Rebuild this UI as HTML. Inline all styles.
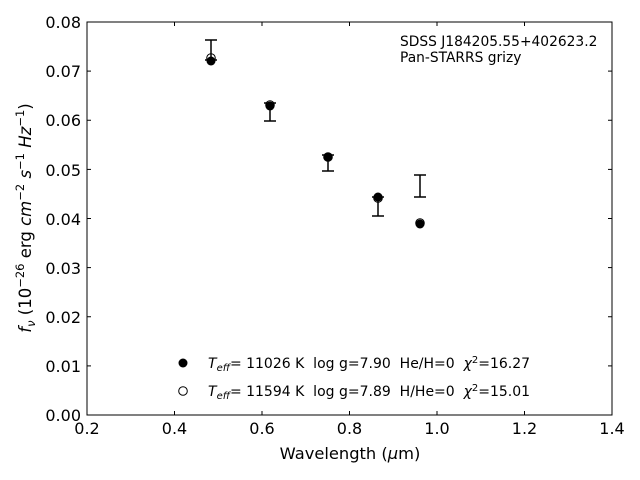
<!DOCTYPE html>
<html><head><meta charset="utf-8"><style>
html,body{margin:0;padding:0;background:#fff;}
svg{display:block;font-family:"DejaVu Sans","Liberation Sans",sans-serif;}
.pre{white-space:pre;}
</style></head><body>
<svg width="640" height="480" viewBox="0 0 640 480" xmlns="http://www.w3.org/2000/svg">
<rect x="0" y="0" width="640" height="480" fill="#fff"/>
<rect x="87" y="22" width="525" height="393" fill="none" stroke="#000" stroke-width="1"/>
<g stroke="#000" stroke-width="1">
<line x1="87" y1="415" x2="87" y2="411"/><line x1="174.5" y1="415" x2="174.5" y2="411"/><line x1="262" y1="415" x2="262" y2="411"/><line x1="349.5" y1="415" x2="349.5" y2="411"/><line x1="437" y1="415" x2="437" y2="411"/><line x1="524.5" y1="415" x2="524.5" y2="411"/><line x1="612" y1="415" x2="612" y2="411"/>
<line x1="174.5" y1="22" x2="174.5" y2="26"/><line x1="262" y1="22" x2="262" y2="26"/><line x1="349.5" y1="22" x2="349.5" y2="26"/><line x1="437" y1="22" x2="437" y2="26"/><line x1="524.5" y1="22" x2="524.5" y2="26"/>
<line x1="87" y1="365.9" x2="91" y2="365.9"/><line x1="87" y1="316.75" x2="91" y2="316.75"/><line x1="87" y1="267.6" x2="91" y2="267.6"/><line x1="87" y1="218.5" x2="91" y2="218.5"/><line x1="87" y1="169.4" x2="91" y2="169.4"/><line x1="87" y1="120.25" x2="91" y2="120.25"/><line x1="87" y1="71.1" x2="91" y2="71.1"/>
<line x1="612" y1="365.9" x2="608" y2="365.9"/><line x1="612" y1="316.75" x2="608" y2="316.75"/><line x1="612" y1="267.6" x2="608" y2="267.6"/><line x1="612" y1="218.5" x2="608" y2="218.5"/><line x1="612" y1="169.4" x2="608" y2="169.4"/><line x1="612" y1="120.25" x2="608" y2="120.25"/><line x1="612" y1="71.1" x2="608" y2="71.1"/>
</g>
<g font-size="16" text-anchor="middle" fill="#000">
<text x="87" y="434">0.2</text><text x="174.5" y="434">0.4</text><text x="262" y="434">0.6</text><text x="349.5" y="434">0.8</text><text x="437" y="434">1.0</text><text x="524.5" y="434">1.2</text><text x="612" y="434">1.4</text>
</g>
<g font-size="16" text-anchor="end" fill="#000">
<text x="81" y="421">0.00</text><text x="81" y="372">0.01</text><text x="81" y="323">0.02</text><text x="81" y="274">0.03</text><text x="81" y="225">0.04</text><text x="81" y="176">0.05</text><text x="81" y="126">0.06</text><text x="81" y="77">0.07</text><text x="81" y="28">0.08</text>
</g>
<text x="350" y="459" font-size="16.3" text-anchor="middle">Wavelength (<tspan font-style="italic">μ</tspan>m)</text>
<text transform="translate(31,218) rotate(-90)" font-size="16.5" text-anchor="middle"><tspan font-style="italic">f</tspan><tspan font-size="11.5" dy="4" font-style="italic">ν</tspan><tspan dy="-4"> (10</tspan><tspan font-size="11.5" dy="-7">−26</tspan><tspan dy="7"> erg </tspan><tspan font-style="italic">cm</tspan><tspan font-size="11.5" dy="-7">−2</tspan><tspan dy="7" font-style="italic"> s</tspan><tspan font-size="11.5" dy="-7">−1</tspan><tspan dy="7" font-style="italic"> Hz</tspan><tspan font-size="11.5" dy="-7">−1</tspan><tspan dy="7">)</tspan></text>
<g stroke="#000" stroke-width="1.5" fill="none">
<line x1="211" y1="40" x2="211" y2="60"/><line x1="205" y1="40" x2="217" y2="40"/><line x1="205" y1="60" x2="217" y2="60"/>
<line x1="270" y1="103" x2="270" y2="121"/><line x1="264" y1="103" x2="276" y2="103"/><line x1="264" y1="121" x2="276" y2="121"/>
<line x1="328" y1="155" x2="328" y2="171"/><line x1="322" y1="155" x2="334" y2="155"/><line x1="322" y1="171" x2="334" y2="171"/>
<line x1="378" y1="197" x2="378" y2="216"/><line x1="372" y1="197" x2="384" y2="197"/><line x1="372" y1="216" x2="384" y2="216"/>
<line x1="420" y1="175" x2="420" y2="197"/><line x1="414" y1="175" x2="426" y2="175"/><line x1="414" y1="197" x2="426" y2="197"/>
</g>
<g fill="#000">
<circle cx="211" cy="61" r="4.5"/><circle cx="270" cy="106" r="4.5"/><circle cx="328" cy="157" r="4.5"/><circle cx="378" cy="197" r="4.5"/><circle cx="420" cy="224" r="4.5"/>
</g>
<g fill="none" stroke="#000" stroke-width="1">
<circle cx="211" cy="58" r="4.3"/><circle cx="270" cy="105" r="4.3"/><circle cx="328" cy="157" r="4.3"/><circle cx="378" cy="198" r="4.3"/><circle cx="420" cy="223" r="4.3"/>
</g>
<text x="400" y="46" font-size="13.8">SDSS J184205.55+402623.2</text>
<text x="400" y="62" font-size="13.8">Pan-STARRS grizy</text>
<circle cx="183" cy="363" r="4.5" fill="#000"/>
<circle cx="183" cy="391" r="4.3" fill="none" stroke="#000" stroke-width="1"/>
<text class="pre" xml:space="preserve" x="208" y="368" font-size="14"><tspan font-style="italic">T</tspan><tspan font-size="10" dy="3" font-style="italic">eff</tspan><tspan dy="-3">= 11026 K  log g=7.90  He/H=0  </tspan><tspan font-style="italic">χ</tspan><tspan font-size="10" dy="-5">2</tspan><tspan dy="5">=16.27</tspan></text>
<text class="pre" xml:space="preserve" x="208" y="396" font-size="14"><tspan font-style="italic">T</tspan><tspan font-size="10" dy="3" font-style="italic">eff</tspan><tspan dy="-3">= 11594 K  log g=7.89  H/He=0  </tspan><tspan font-style="italic">χ</tspan><tspan font-size="10" dy="-5">2</tspan><tspan dy="5">=15.01</tspan></text>
</svg>
</body></html>
